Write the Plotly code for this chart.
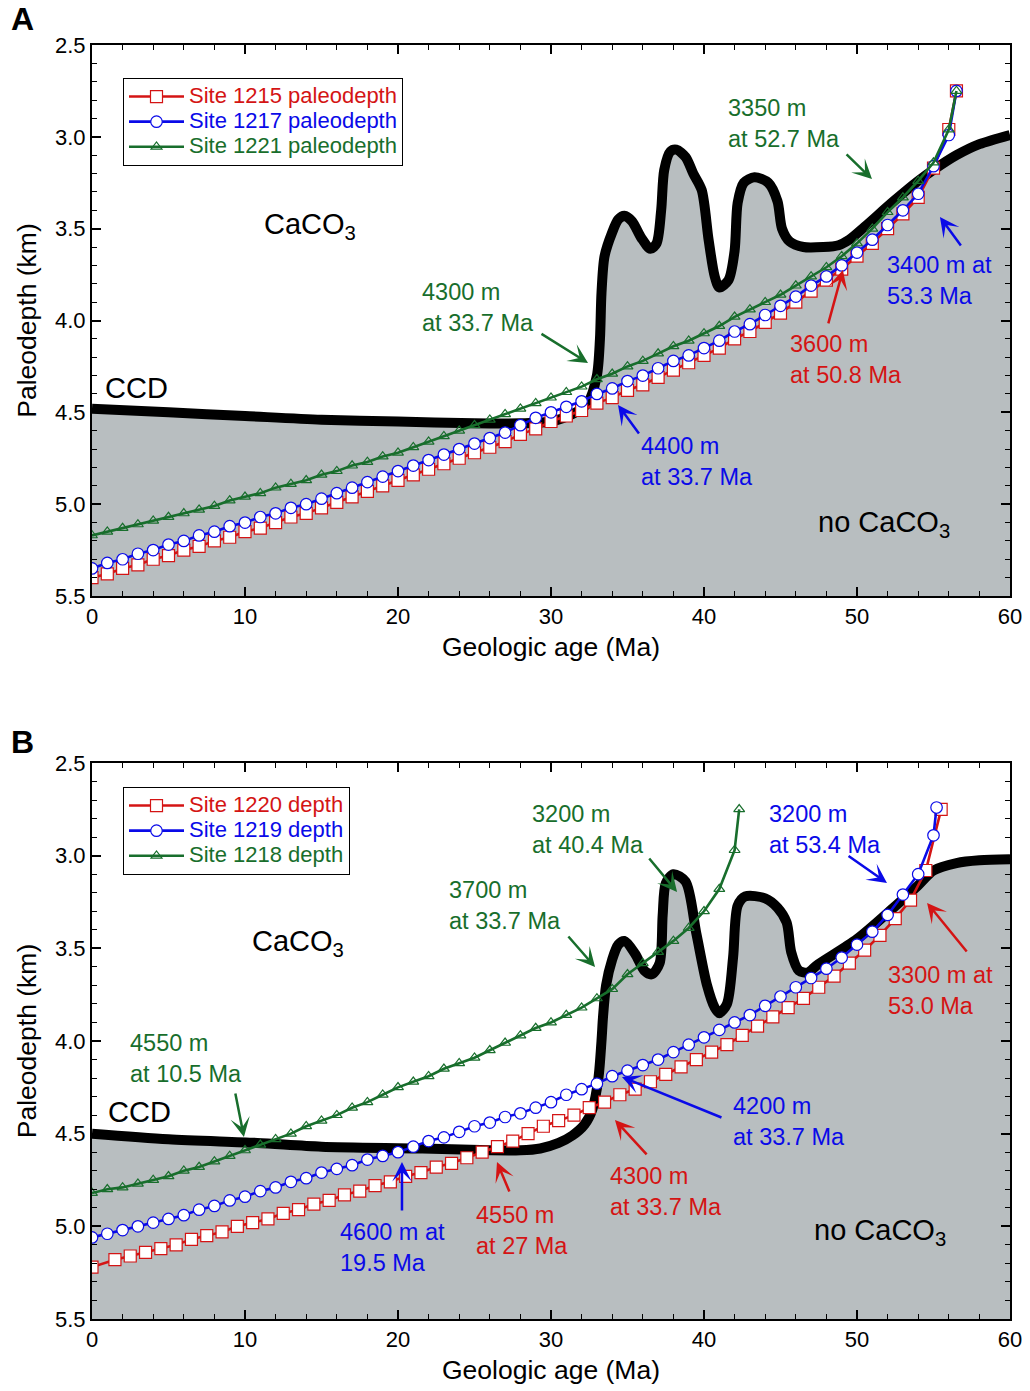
import plotly.graph_objects as go

W, H = 1030, 1391
RED = "#d41414"
BLUE = "#0a0ae8"
GREEN = "#186e2c"
GRAY = "#b8bec0"
FONT = "Liberation Sans, Arial, Helvetica, sans-serif"

X_RANGE = [0, 60]
Y_TOP, Y_BOTTOM = 2.5, 5.5

# ---------------- Panel A data ----------------
AGE_A = [0, 1, 2, 3, 4, 5, 6, 7, 8, 9,
         10, 11, 12, 13, 14, 15, 16, 17, 18, 19,
         20, 21, 22, 23, 24, 25, 26, 27, 28, 29,
         30, 31, 32, 33, 34, 35, 36, 37, 38, 39,
         40, 41, 42, 43, 44, 45, 46, 47, 48, 49,
         50, 51, 52, 53, 54, 55, 56, 56.5]
SITE1215 = [5.40, 5.38, 5.35, 5.33, 5.30, 5.28, 5.25, 5.23, 5.20, 5.18,
            5.15, 5.13, 5.10, 5.07, 5.05, 5.02, 4.99, 4.96, 4.93, 4.90,
            4.87, 4.84, 4.81, 4.78, 4.75, 4.72, 4.69, 4.66, 4.62, 4.59,
            4.55, 4.52, 4.49, 4.45, 4.42, 4.38, 4.35, 4.31, 4.27, 4.23,
            4.19, 4.15, 4.10, 4.06, 4.01, 3.96, 3.90, 3.84, 3.78, 3.72,
            3.65, 3.58, 3.50, 3.42, 3.33, 3.17, 2.96, 2.75]
SITE1217 = [5.35, 5.32, 5.30, 5.27, 5.25, 5.22, 5.20, 5.17, 5.15, 5.12,
            5.10, 5.07, 5.05, 5.02, 5.00, 4.97, 4.94, 4.91, 4.88, 4.85,
            4.82, 4.79, 4.76, 4.73, 4.70, 4.67, 4.64, 4.61, 4.57, 4.53,
            4.50, 4.47, 4.44, 4.40, 4.37, 4.33, 4.30, 4.26, 4.22, 4.19,
            4.15, 4.11, 4.06, 4.02, 3.97, 3.92, 3.87, 3.81, 3.76, 3.70,
            3.63, 3.56, 3.48, 3.40, 3.31, 3.16, 2.99, 2.75]
SITE1221 = [5.17, 5.15, 5.13, 5.11, 5.09, 5.07, 5.05, 5.03, 5.01, 4.98,
            4.96, 4.94, 4.91, 4.89, 4.87, 4.84, 4.82, 4.79, 4.77, 4.74,
            4.72, 4.69, 4.66, 4.63, 4.60, 4.57, 4.54, 4.51, 4.48, 4.45,
            4.42, 4.39, 4.36, 4.32, 4.29, 4.25, 4.22, 4.18, 4.14, 4.11,
            4.07, 4.03, 3.98, 3.94, 3.90, 3.86, 3.81, 3.76, 3.71, 3.65,
            3.58, 3.50, 3.41, 3.33, 3.24, 3.14, 2.96, 2.75]
CCD_A_AGE = [0, 5, 10, 15, 20, 25, 28, 30,
             31.4, 32.4, 33.0, 33.2, 33.3, 33.5, 34.0, 34.4, 34.8, 35.3,
             35.9, 36.5, 36.9, 37.2, 37.4, 37.8, 38.2, 38.8, 39.3, 39.85,
             40.3, 40.7, 41.0, 41.6, 42.0, 42.2, 42.6, 43.3, 44.2, 44.8,
             45.1, 45.6, 46.5, 47.8, 48.8, 49.5, 50.5, 52.4, 54.0, 55.0,
             56.5, 58.0, 60.0]
CCD_A_DEPTH = [4.48, 4.50, 4.52, 4.54, 4.55, 4.56, 4.56, 4.55,
               4.51, 4.45, 4.30, 4.10, 3.85, 3.65, 3.52, 3.45, 3.43, 3.46,
               3.55, 3.61, 3.58, 3.40, 3.18, 3.08, 3.07, 3.11, 3.20, 3.29,
               3.56, 3.76, 3.82, 3.78, 3.62, 3.36, 3.25, 3.22, 3.25, 3.35,
               3.50, 3.57, 3.60, 3.60, 3.59, 3.56, 3.49, 3.35, 3.24, 3.18,
               3.10, 3.04, 2.99]

# ---------------- Panel B data ----------------
AGE_1220 = [0, 1.5, 2.5, 3.5, 4.5, 5.5, 6.5, 7.5, 8.5, 9.5,
            10.5, 11.5, 12.5, 13.5, 14.5, 15.5, 16.5, 17.5, 18.5, 19.5,
            20.5, 21.5, 22.5, 23.5, 24.5, 25.5, 26.5, 27.5, 28.5, 29.5,
            30.5, 31.5, 32.5, 33.5, 34.5, 35.5, 36.5, 37.5, 38.5, 39.5,
            40.5, 41.5, 42.5, 43.5, 44.5, 45.5, 46.5, 47.5, 48.5, 49.5,
            50.5, 51.5, 52.5, 53.5, 54.5, 55.5]
SITE1220 = [5.22, 5.18, 5.16, 5.14, 5.12, 5.10, 5.07, 5.05, 5.03, 5.00,
            4.98, 4.96, 4.93, 4.91, 4.88, 4.86, 4.83, 4.81, 4.78, 4.76,
            4.73, 4.71, 4.68, 4.66, 4.63, 4.60, 4.57, 4.54, 4.50, 4.46,
            4.43, 4.40, 4.36, 4.33, 4.29, 4.26, 4.22, 4.18, 4.14, 4.10,
            4.06, 4.02, 3.97, 3.92, 3.87, 3.82, 3.77, 3.71, 3.65, 3.58,
            3.51, 3.43, 3.34, 3.24, 3.08, 2.75]
AGE_1219 = [0, 1, 2, 3, 4, 5, 6, 7, 8, 9,
            10, 11, 12, 13, 14, 15, 16, 17, 18, 19,
            20, 21, 22, 23, 24, 25, 26, 27, 28, 29,
            30, 31, 32, 33, 34, 35, 36, 37, 38, 39,
            40, 41, 42, 43, 44, 45, 46, 47, 48, 49,
            50, 51, 52, 53, 54, 55, 55.2]
SITE1219 = [5.06, 5.04, 5.02, 5.00, 4.98, 4.96, 4.94, 4.91, 4.89, 4.86,
            4.84, 4.81, 4.79, 4.76, 4.74, 4.71, 4.69, 4.67, 4.64, 4.62,
            4.60, 4.57, 4.54, 4.52, 4.49, 4.46, 4.44, 4.41, 4.39, 4.36,
            4.33, 4.29, 4.26, 4.23, 4.19, 4.16, 4.13, 4.10, 4.06, 4.02,
            3.98, 3.94, 3.90, 3.86, 3.81, 3.76, 3.71, 3.66, 3.61, 3.55,
            3.48, 3.41, 3.32, 3.21, 3.10, 2.89, 2.74]
AGE_1218 = [0, 1, 2, 3, 4, 5, 6, 7, 8, 9,
            10, 11, 12, 13, 14, 15, 16, 17, 18, 19,
            20, 21, 22, 23, 24, 25, 26, 27, 28, 29,
            30, 31, 32, 33, 34, 35, 36, 37, 38, 39,
            40, 41, 42, 42.3]
SITE1218 = [4.82, 4.80, 4.79, 4.77, 4.75, 4.73, 4.70, 4.68, 4.65, 4.62,
            4.59, 4.56, 4.53, 4.50, 4.46, 4.43, 4.40, 4.36, 4.33, 4.29,
            4.25, 4.22, 4.19, 4.15, 4.12, 4.09, 4.05, 4.01, 3.97, 3.93,
            3.90, 3.86, 3.82, 3.77, 3.72, 3.64, 3.58, 3.52, 3.46, 3.39,
            3.30, 3.18, 2.97, 2.75]
CCD_B_AGE = [0, 5, 10.8, 15, 21.6, 26, 28, 29.3, 30.5, 31.4,
             32.2, 32.7, 33.1, 33.3, 33.4, 33.6, 34.0, 34.4, 34.8, 35.5,
             36.1, 36.6, 37.1, 37.3, 37.5, 38.0, 38.8, 39.5, 40.2, 40.7,
             41.0, 41.5, 41.9, 42.2, 42.7, 44.0, 44.8, 45.4, 45.7, 46.2,
             46.8, 47.4, 50.0, 52.4, 54.0, 55.0, 56.5, 58.0, 60.0]
CCD_B_DEPTH = [4.50, 4.53, 4.55, 4.57, 4.58, 4.59, 4.59, 4.58, 4.55, 4.51,
               4.45, 4.37, 4.20, 4.00, 3.87, 3.70, 3.56, 3.48, 3.46, 3.53,
               3.62, 3.64, 3.58, 3.32, 3.15, 3.10, 3.14, 3.42, 3.70, 3.82,
               3.85, 3.80, 3.55, 3.27, 3.22, 3.23, 3.28, 3.36, 3.52, 3.62,
               3.63, 3.59, 3.45, 3.28, 3.16, 3.08, 3.04, 3.025, 3.02]

LEGEND_A = ["Site 1215 paleodepth", "Site 1217 paleodepth", "Site 1221 paleodepth"]
LEGEND_B = ["Site 1220 depth", "Site 1219 depth", "Site 1218 depth"]


def px(x):
    return x / W


def py(y):
    return 1 - y / H


fig = go.Figure()


def add_panel(xa, ya, legend, ccd_age, ccd_depth, series):
    # floor of the gray "no CaCO3" region
    fig.add_trace(go.Scatter(x=X_RANGE, y=[Y_BOTTOM, Y_BOTTOM], mode="lines",
                             line=dict(width=0, color=GRAY), xaxis=xa, yaxis=ya,
                             showlegend=False, hoverinfo="skip", legend=legend))
    fig.add_trace(go.Scatter(x=ccd_age, y=ccd_depth, mode="lines", fill="tonexty",
                             fillcolor=GRAY,
                             line=dict(color="black", width=10, shape="spline", smoothing=0.8),
                             xaxis=xa, yaxis=ya, showlegend=False, hoverinfo="skip",
                             legend=legend))
    for (ages, vals, label, color, sym, size, mfill) in series:
        fig.add_trace(go.Scatter(
            x=ages, y=vals, mode="lines+markers",
            name=f"<span style='color:{color};font-size:22px'>{label}</span>",
            line=dict(color=color, width=2.6),
            marker=dict(symbol=sym, size=size, color=mfill,
                        line=dict(color=color, width=1.2)),
            xaxis=xa, yaxis=ya, legend=legend))


add_panel("x", "y", "legend", CCD_A_AGE, CCD_A_DEPTH, [
    (AGE_A, SITE1215, LEGEND_A[0], RED, "square", 12, "white"),
    (AGE_A, SITE1217, LEGEND_A[1], BLUE, "circle", 11.5, "white"),
    (AGE_A, SITE1221, LEGEND_A[2], GREEN, "triangle-up-open", 9.5, GREEN),
])
add_panel("x2", "y2", "legend2", CCD_B_AGE, CCD_B_DEPTH, [
    (AGE_1220, SITE1220, LEGEND_B[0], RED, "square", 12, "white"),
    (AGE_1219, SITE1219, LEGEND_B[1], BLUE, "circle", 11.5, "white"),
    (AGE_1218, SITE1218, LEGEND_B[2], GREEN, "triangle-up-open", 9.5, GREEN),
])

axis_common = dict(showline=True, linecolor="black", linewidth=2, mirror="allticks",
                   ticks="inside", ticklen=9, tickwidth=1.5, tickcolor="black",
                   showgrid=False, zeroline=False, automargin=False,
                   tickfont=dict(size=22, family=FONT, color="black"))

xcommon = dict(axis_common, range=X_RANGE, dtick=10, tick0=0,
               minor=dict(dtick=2, ticks="inside", ticklen=5, tickwidth=1.2, tickcolor="black"),
               title=dict(text="Geologic age (Ma)", font=dict(size=26.5, family=FONT, color="black"),
                          standoff=9))
ycommon = dict(axis_common, range=[Y_BOTTOM, Y_TOP], dtick=0.5, tick0=0, tickformat=".1f",
               minor=dict(dtick=0.1, ticks="inside", ticklen=5, tickwidth=1.2, tickcolor="black"),
               title=dict(text="Paleodepth (km)", font=dict(size=26.5, family=FONT, color="black"),
                          standoff=11))

legend_common = dict(xanchor="left", yanchor="top", bordercolor="black", borderwidth=1,
                     bgcolor="white", font=dict(size=17, family=FONT), itemwidth=55,
                     tracegroupgap=0, traceorder="normal")

fig.update_layout(
    width=W, height=H, margin=dict(l=0, r=0, t=0, b=0, autoexpand=False),
    paper_bgcolor="white", plot_bgcolor="white",
    font=dict(family=FONT, color="black"),
    xaxis=dict(xcommon, domain=[px(92), px(1010)], anchor="y"),
    yaxis=dict(ycommon, domain=[py(596), py(45)], anchor="x"),
    xaxis2=dict(xcommon, domain=[px(92), px(1010)], anchor="y2"),
    yaxis2=dict(ycommon, domain=[py(1319), py(763)], anchor="x2"),
    legend=dict(legend_common, x=px(123), y=py(78)),
    legend2=dict(legend_common, x=px(123), y=py(787)),
)

anns = []


def label(text, left, mid, color="black", size=23.5):
    anns.append(dict(text=text, x=px(left), y=py(mid), xref="paper", yref="paper",
                     xanchor="left", yanchor="middle", align="left", showarrow=False,
                     font=dict(size=size, family=FONT, color=color)))


def arrow(head, tail, color, panel):
    xr, yr = ("x", "y") if panel == 1 else ("x2", "y2")
    anns.append(dict(text="", x=head[0], y=head[1], ax=tail[0], ay=tail[1],
                     xref=xr, yref=yr, axref=xr, ayref=yr, showarrow=True,
                     arrowhead=3, arrowsize=1.3, arrowwidth=2.5, arrowcolor=color))


# Panel letters
for letter, ypix in (("A", 19), ("B", 742)):
    anns.append(dict(text=f"<b>{letter}</b>", x=px(22), y=py(ypix), xref="paper", yref="paper",
                     xanchor="center", yanchor="middle", showarrow=False,
                     font=dict(size=32, family=FONT, color="black")))

# Panel A texts
label("CaCO<sub>3</sub>", 262, 226, size=29)
label("no CaCO<sub>3</sub>", 816, 524, size=29)
label("CCD", 103, 388, size=29)
label("3350 m<br>at 52.7 Ma", 726, 123, GREEN)
label("3400 m at<br>53.3 Ma", 885, 280, BLUE)
label("3600 m<br>at 50.8 Ma", 788, 360, RED)
label("4300 m<br>at 33.7 Ma", 420, 308, GREEN)
label("4400 m<br>at 33.7 Ma", 639, 461, BLUE)

arrow((50.98, 3.230), (49.22, 3.088), GREEN, 1)
arrow((55.42, 3.436), (56.86, 3.600), BLUE, 1)
arrow((49.08, 3.725), (48.10, 4.024), RED, 1)
arrow((32.42, 4.231), (29.28, 4.068), GREEN, 1)
arrow((34.38, 4.460), (35.82, 4.623), BLUE, 1)

# Panel B texts
label("CaCO<sub>3</sub>", 250, 943, size=29)
label("no CaCO<sub>3</sub>", 812, 1232, size=29)
label("CCD", 106, 1112, size=29)
label("3200 m<br>at 40.4 Ma", 530, 829, GREEN)
label("3200 m<br>at 53.4 Ma", 767, 829, BLUE)
label("3700 m<br>at 33.7 Ma", 447, 905, GREEN)
label("3300 m at<br>53.0 Ma", 886, 990, RED)
label("4550 m<br>at 10.5 Ma", 128, 1058, GREEN)
label("4600 m at<br>19.5 Ma", 338, 1247, BLUE)
label("4550 m<br>at 27 Ma", 474, 1230, RED)
label("4200 m<br>at 33.7 Ma", 731, 1121, BLUE)
label("4300 m<br>at 33.7 Ma", 608, 1191, RED)

arrow((38.24, 3.196), (36.34, 3.007), GREEN, 2)
arrow((51.96, 3.147), (49.35, 2.996), BLUE, 2)
arrow((32.88, 3.601), (31.05, 3.428), GREEN, 2)
arrow((54.58, 3.255), (57.25, 3.525), RED, 2)
arrow((9.93, 4.518), (9.35, 4.275), GREEN, 2)
arrow((20.26, 4.653), (20.26, 4.923), BLUE, 2)
arrow((26.47, 4.653), (27.32, 4.820), RED, 2)
arrow((34.64, 4.194), (41.24, 4.416), BLUE, 2)
arrow((34.18, 4.426), (36.34, 4.620), RED, 2)

fig.update_layout(annotations=anns)
fig.write_html("out.html", config={"displayModeBar": False},
               post_script="document.body.style.margin='0';document.body.style.padding='0';")
